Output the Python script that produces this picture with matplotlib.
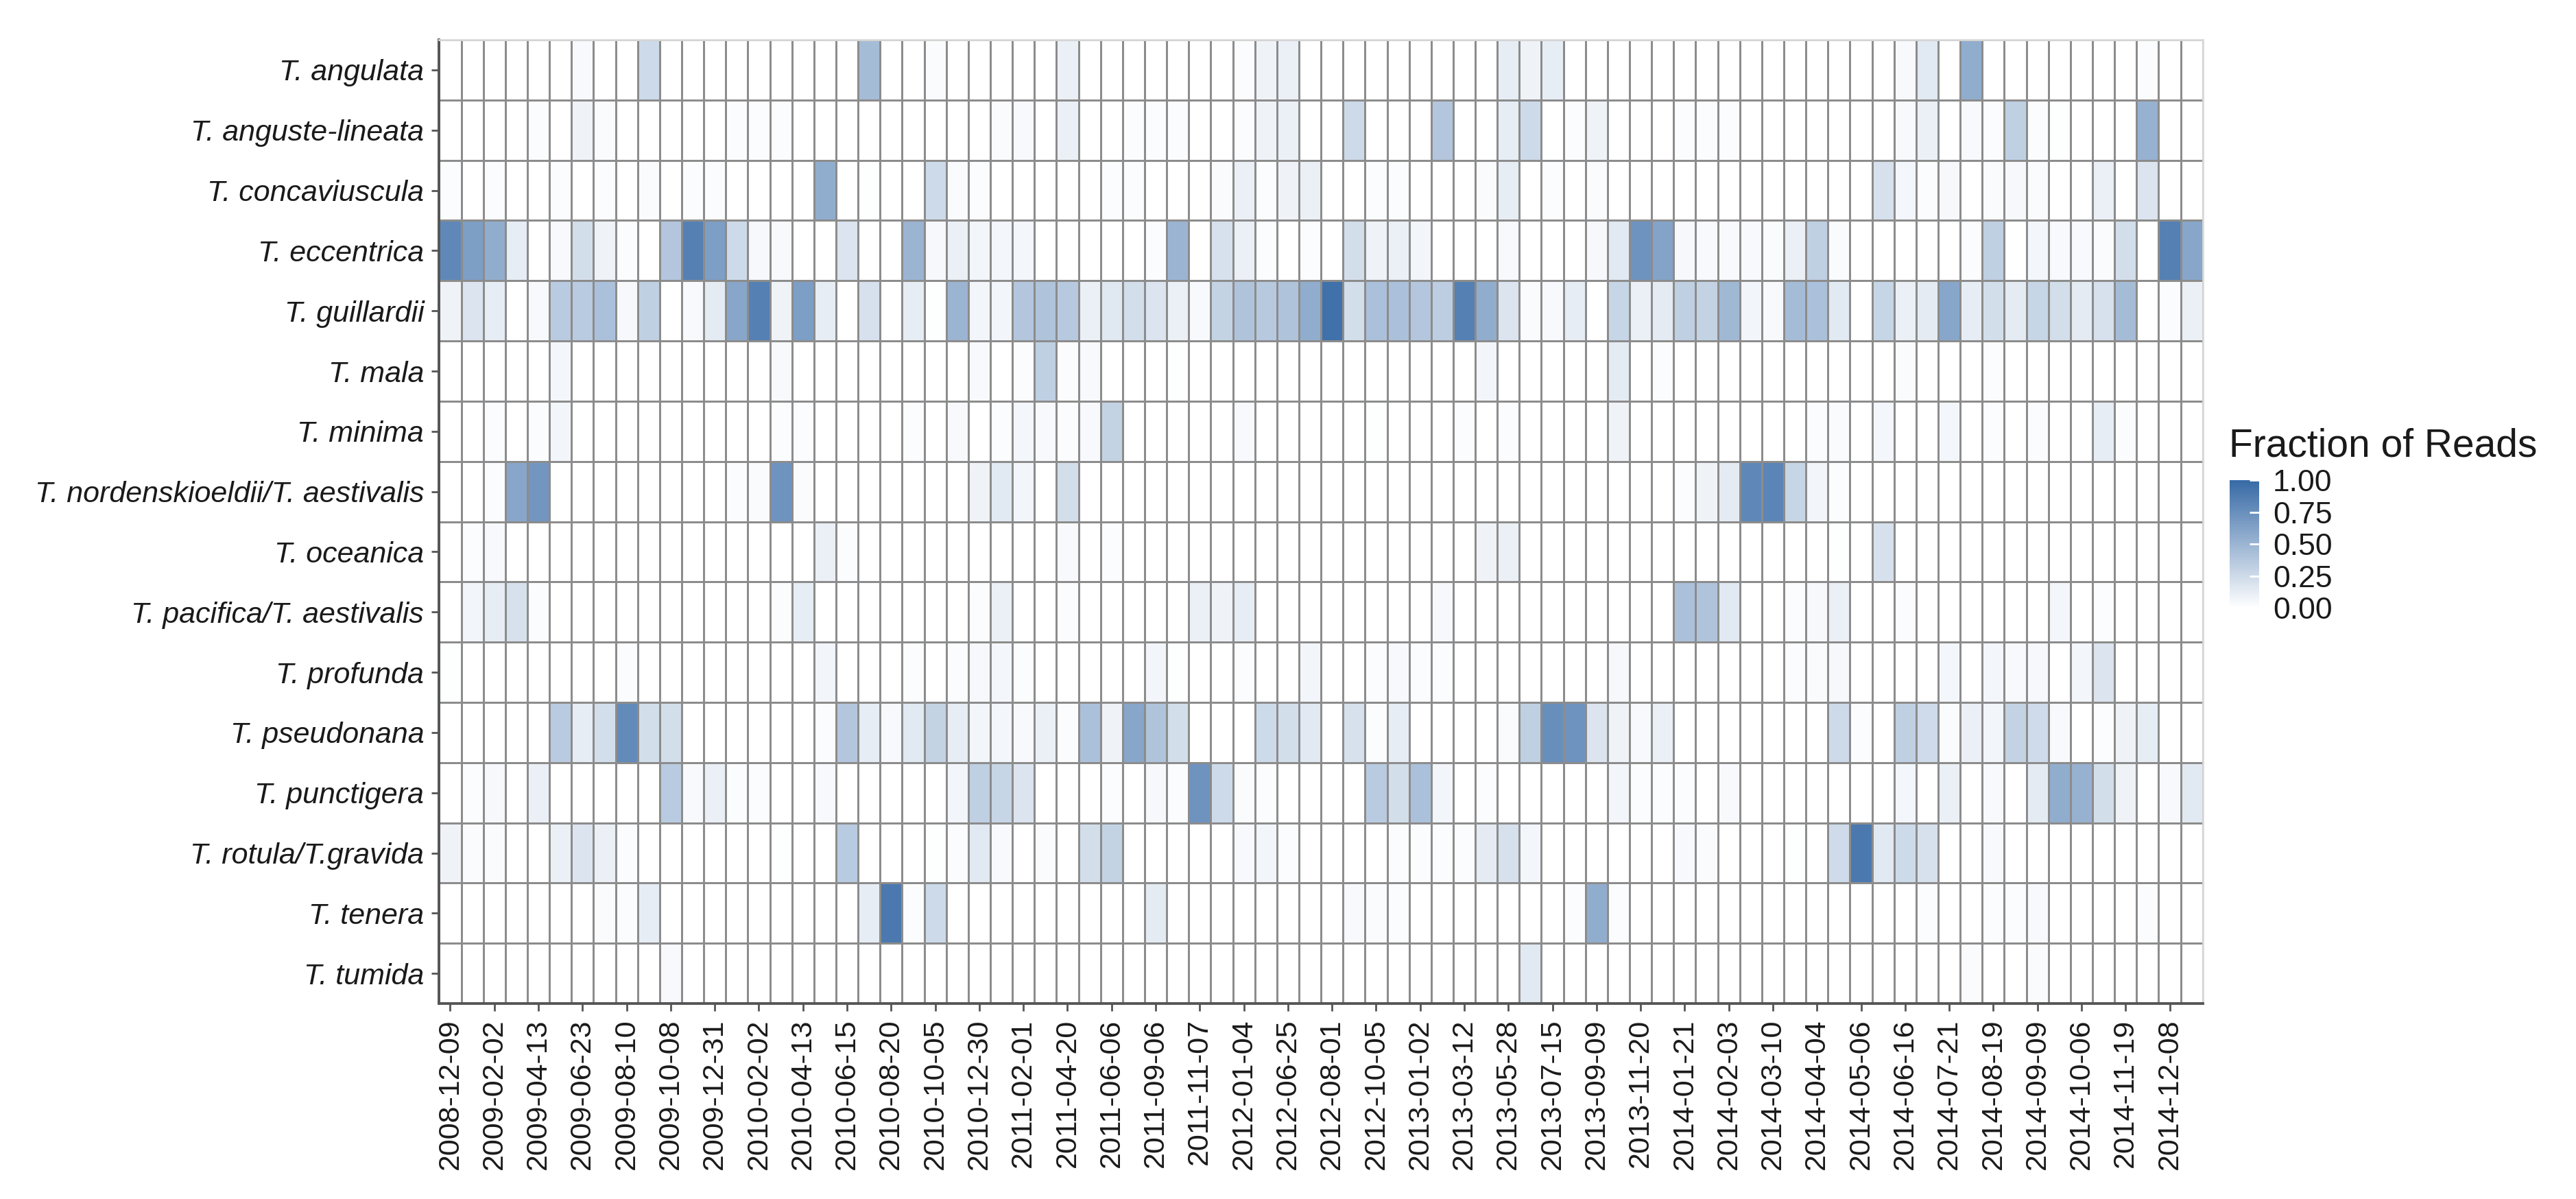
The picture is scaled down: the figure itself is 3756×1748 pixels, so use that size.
import numpy as np
import matplotlib.pyplot as plt
import matplotlib.transforms as mtransforms
from matplotlib.colors import LinearSegmentedColormap

plt.rcParams['font.family'] = ['Liberation Sans', 'DejaVu Sans']

species = ['T. angulata', 'T. anguste-lineata', 'T. concaviuscula', 'T. eccentrica',
           'T. guillardii', 'T. mala', 'T. minima', 'T. nordenskioeldii/T. aestivalis',
           'T. oceanica', 'T. pacifica/T. aestivalis', 'T. profunda', 'T. pseudonana',
           'T. punctigera', 'T. rotula/T.gravida', 'T. tenera', 'T. tumida']

# every second sampling date is labelled on the axis
date_labels = ['2008-12-09', '2009-02-02', '2009-04-13', '2009-06-23', '2009-08-10',
               '2009-10-08', '2009-12-31', '2010-02-02', '2010-04-13', '2010-06-15',
               '2010-08-20', '2010-10-05', '2010-12-30', '2011-02-01', '2011-04-20',
               '2011-06-06', '2011-09-06', '2011-11-07', '2012-01-04', '2012-06-25',
               '2012-08-01', '2012-10-05', '2013-01-02', '2013-03-12', '2013-05-28',
               '2013-07-15', '2013-09-09', '2013-11-20', '2014-01-21', '2014-02-03',
               '2014-03-10', '2014-04-04', '2014-05-06', '2014-06-16', '2014-07-21',
               '2014-08-19', '2014-09-09', '2014-10-06', '2014-11-19', '2014-12-08']
n_samples = 80

angulata = [0, 0, 0, 0, 0, 0, .04, 0, 0, .25,
            0, 0, 0, 0, 0, 0, 0, 0, 0, .45,
            0, 0, .03, 0, 0, 0, 0, 0, .1, 0,
            0, 0, 0, 0, 0, 0, .02, .08, .1, 0,
            0, 0, 0, 0, 0, 0, 0, 0, .12, .08,
            .12, 0, 0, 0, 0, 0, 0, 0, 0, 0,
            0, 0, 0, 0, 0, 0, .04, .15, 0, .55,
            0, 0, 0, 0, 0, 0, 0, .02, 0, 0]
anguste_lineata = [0, 0, 0, 0, .02, 0, .08, .03, 0, 0,
                   0, 0, 0, .02, .02, .02, 0, 0, 0, 0,
                   0, 0, 0, 0, 0, .03, .04, 0, .1, 0,
                   0, .02, .02, .02, 0, 0, .02, .08, .1, 0,
                   0, .25, 0, 0, 0, .38, 0, 0, .12, .25,
                   0, .02, .08, 0, 0, 0, .02, .02, .02, 0,
                   0, 0, 0, 0, 0, 0, .04, .1, 0, .04,
                   .02, .32, .02, .01, 0, 0, 0, .52, 0, 0]
concaviuscula = [.02, 0, .02, 0, 0, .02, 0, .02, 0, .03,
                 0, .02, .02, 0, 0, 0, 0, .55, 0, .01,
                 0, 0, .25, .03, .02, 0, 0, 0, 0, 0,
                 .02, .02, 0, 0, 0, .03, .1, .02, .08, .1,
                 0, 0, .02, .02, 0, 0, 0, .03, .12, 0,
                 .02, 0, .03, 0, 0, 0, 0, 0, 0, 0,
                 0, 0, 0, 0, 0, .2, .06, .02, .05, 0,
                 .03, .05, .03, 0, 0, .1, 0, .18, 0, 0]
eccentrica = [.8, .65, .55, .12, 0, .04, .22, .08, .02, 0,
              .38, .85, .65, .25, .05, .04, 0, 0, .18, 0,
              0, .5, .05, .1, .07, .06, .06, 0, 0, 0,
              0, 0, .02, .5, 0, .2, .1, .02, 0, .02,
              0, .22, .08, .1, .07, 0, 0, 0, .04, 0,
              0, 0, .05, .15, .72, .62, .05, .04, .04, .04,
              .03, .1, .32, .03, 0, 0, 0, 0, 0, .02,
              .32, 0, .06, .04, .04, .03, .22, 0, .85, .6]
guillardii = [.08, .18, .12, 0, .04, .35, .35, .42, .05, .32,
              0, .04, .14, .6, .85, .08, .65, .12, 0, .2,
              0, .12, .01, .5, .07, .07, .38, .4, .36, .1,
              .16, .22, .18, .1, .04, .3, .4, .36, .4, .55,
              .95, .22, .42, .42, .38, .33, .85, .55, .18, .03,
              .04, .12, 0, .28, .1, .14, .32, .3, .48, .07,
              .04, .45, .42, .15, 0, .28, .1, .14, .6, .12,
              .22, .14, .28, .22, .14, .2, .45, 0, .02, .1]
mala = [0, 0, 0, 0, 0, .06, 0, 0, 0, 0,
        0, 0, 0, 0, 0, .04, 0, 0, 0, 0,
        0, 0, 0, 0, .04, 0, .02, .32, .02, .04,
        0, 0, 0, .01, 0, 0, 0, 0, 0, 0,
        0, 0, 0, 0, 0, 0, 0, .07, 0, 0,
        0, 0, 0, .14, 0, .02, 0, 0, 0, 0,
        0, 0, 0, 0, 0, 0, .03, 0, 0, 0,
        .02, 0, 0, 0, 0, 0, 0, 0, 0, 0]
minima = [0, 0, .02, 0, .02, .07, 0, 0, 0, 0,
          0, 0, 0, 0, 0, .02, .02, 0, 0, 0,
          0, .02, 0, .04, 0, .02, .06, .04, .02, .04,
          .3, 0, 0, 0, 0, 0, .04, 0, 0, 0,
          0, 0, .01, 0, 0, 0, .02, 0, .02, 0,
          0, 0, 0, .08, 0, 0, 0, 0, 0, 0,
          0, 0, .02, .03, 0, .06, 0, 0, .06, 0,
          .02, 0, .02, 0, 0, .12, .02, 0, 0, 0]
nordenskioeldii = [0, 0, .02, .6, .7, 0, 0, 0, 0, 0,
                   0, 0, 0, .02, .03, .72, .03, 0, 0, 0,
                   0, 0, 0, 0, .08, .15, .07, 0, .22, 0,
                   0, 0, 0, 0, 0, 0, 0, 0, 0, 0,
                   0, 0, 0, 0, 0, 0, 0, 0, 0, 0,
                   0, 0, 0, 0, 0, 0, .02, .08, .14, .8,
                   .82, .28, .07, .02, 0, 0, 0, 0, 0, 0,
                   0, 0, 0, 0, 0, 0, 0, 0, 0, 0]
oceanica = [0, .02, .04, 0, 0, 0, 0, 0, 0, 0,
            0, 0, 0, 0, 0, 0, 0, .1, .02, 0,
            0, 0, 0, 0, 0, 0, 0, 0, .04, 0,
            .02, 0, 0, 0, 0, 0, 0, 0, 0, 0,
            0, 0, 0, 0, 0, 0, 0, .08, .1, 0,
            0, 0, 0, 0, 0, 0, 0, 0, 0, 0,
            0, 0, 0, .01, 0, .2, 0, 0, 0, 0,
            0, 0, 0, 0, 0, 0, 0, 0, 0, 0]
pacifica = [0, .07, .12, .2, .02, 0, 0, 0, 0, 0,
            0, 0, 0, 0, 0, .02, .12, 0, 0, 0,
            0, 0, 0, 0, .02, .1, 0, 0, .02, 0,
            0, 0, 0, 0, .1, .08, .12, 0, 0, 0,
            0, 0, 0, 0, 0, .05, 0, 0, 0, 0,
            0, 0, 0, 0, 0, 0, .42, .4, .15, 0,
            0, .02, .05, .1, 0, 0, .02, 0, 0, 0,
            0, 0, 0, .06, 0, .02, 0, 0, 0, 0]
profunda = [.01, 0, 0, 0, 0, 0, 0, 0, .02, 0,
            0, 0, 0, 0, 0, 0, 0, .07, 0, 0,
            0, .02, 0, .02, .05, .06, .02, 0, 0, 0,
            0, 0, .07, .01, 0, 0, .02, 0, 0, .07,
            0, 0, .02, .04, .02, .02, 0, 0, 0, 0,
            0, 0, 0, .05, 0, 0, 0, 0, 0, 0,
            0, .02, .03, .05, 0, 0, 0, 0, .06, 0,
            .06, .04, .05, 0, .06, .18, 0, 0, 0, 0]
pseudonana = [0, 0, 0, 0, 0, .35, .12, .22, .78, .22,
              .22, 0, 0, 0, 0, 0, 0, .02, .38, .12,
              .04, .15, .3, .12, .07, .06, .04, .1, .02, .42,
              .08, .6, .4, .22, 0, 0, 0, .25, .22, .15,
              0, .2, .02, .12, 0, 0, 0, 0, .03, .32,
              .75, .72, .18, .08, .04, .1, 0, 0, 0, 0,
              0, 0, 0, .25, .02, 0, .32, .24, .03, .1,
              .07, .3, .24, .04, 0, .02, .08, .12, 0, 0]
punctigera = [0, .02, .05, 0, .1, 0, 0, 0, 0, 0,
              .35, .04, .1, .02, .02, 0, 0, .04, 0, 0,
              0, 0, 0, .07, .32, .28, .18, 0, 0, 0,
              .02, 0, .05, .02, .72, .25, .03, .02, 0, 0,
              0, 0, .35, .22, .42, .07, 0, .02, 0, 0,
              0, 0, 0, .07, .02, .02, .02, 0, .04, 0,
              0, 0, 0, 0, 0, 0, .06, 0, .1, 0,
              .04, 0, .14, .55, .52, .22, .08, 0, .04, .15]
rotula = [.08, .03, .03, 0, 0, .1, .18, .1, .02, 0,
          0, 0, 0, 0, 0, .01, 0, 0, .35, 0,
          0, 0, .01, .02, .15, .04, 0, .03, 0, .22,
          .3, 0, 0, 0, 0, 0, .04, .07, .02, 0,
          0, 0, 0, .02, .02, .02, .02, .14, .2, .06,
          0, 0, 0, 0, 0, 0, .04, .03, 0, 0,
          0, .01, 0, .24, .9, .15, .25, .2, 0, 0,
          .04, 0, 0, 0, 0, 0, 0, 0, 0, 0]
tenera = [0, 0, 0, 0, 0, 0, 0, .03, .02, .12,
          0, 0, 0, 0, 0, 0, 0, 0, 0, .12,
          .9, .02, .25, 0, 0, 0, 0, 0, 0, 0,
          0, 0, .14, 0, 0, 0, 0, 0, 0, 0,
          0, .04, .03, .02, 0, 0, 0, 0, 0, 0,
          0, .02, .55, .02, 0, 0, 0, 0, 0, 0,
          0, 0, 0, 0, 0, 0, 0, .02, 0, 0,
          .02, .02, .04, 0, 0, 0, 0, .02, 0, 0]
tumida = [0, 0, 0, 0, 0, 0, 0, 0, 0, 0,
          .04, 0, 0, 0, 0, 0, 0, 0, 0, 0,
          0, 0, 0, 0, 0, 0, 0, 0, 0, 0,
          0, 0, 0, 0, 0, 0, 0, 0, 0, 0,
          0, 0, 0, 0, 0, 0, 0, 0, 0, .15,
          0, 0, 0, 0, 0, 0, 0, 0, 0, 0,
          0, 0, 0, 0, 0, 0, 0, 0, 0, .03,
          0, 0, .03, 0, 0, 0, 0, 0, 0, 0]

fractions = np.array([angulata, anguste_lineata, concaviuscula, eccentrica, guillardii,
                      mala, minima, nordenskioeldii, oceanica, pacifica, profunda,
                      pseudonana, punctigera, rotula, tenera, tumida])

fontsize = 15.5
textcol = '#1a1a1a'

fig = plt.figure(figsize=(18.78, 8.74), dpi=200)
ax = fig.add_axes([0.1705, 0.163, 0.6846, 0.8038])

cmap = LinearSegmentedColormap.from_list('reads', ['#ffffff', '#376aa6'])
mesh = ax.pcolormesh(np.arange(n_samples + 1), np.arange(len(species) + 1), fractions,
                     cmap=cmap, vmin=0, vmax=1, edgecolors='#8c8c8c', linewidth=0.45)
ax.set_xlim(0, n_samples)
ax.set_ylim(len(species), 0)

ax.set_xticks(np.arange(0, n_samples, 2) + 0.5)
ax.set_xticklabels(date_labels, rotation=90, fontsize=fontsize, color=textcol)
# labels sit a little to the right of their ticks, as in the original
shift = mtransforms.ScaledTranslation(0.1, 0, fig.dpi_scale_trans)
for lab in ax.get_xticklabels():
    lab.set_transform(lab.get_transform() + shift)
ax.set_yticks(np.arange(len(species)) + 0.5)
ax.set_yticklabels(species, fontsize=fontsize, fontstyle='italic', color=textcol)
ax.tick_params(length=4, width=1, color='#555555', pad=4)

for side in ['left', 'bottom']:
    ax.spines[side].set_color('#555555')
    ax.spines[side].set_linewidth(1.4)
for side in ['top', 'right']:
    ax.spines[side].set_color('#d9d9d9')
    ax.spines[side].set_linewidth(1.0)

# colour legend
cax = fig.add_axes([0.8656, 0.4931, 0.0115, 0.1064])
cb = fig.colorbar(mesh, cax=cax, ticks=[0, 0.25, 0.5, 0.75, 1.0])
cb.outline.set_visible(False)
cax.set_yticklabels(['0.00', '0.25', '0.50', '0.75', '1.00'], fontsize=16, color=textcol)
cax.tick_params(color='white', direction='in', length=5, width=1, pad=7)
fig.text(0.8653, 0.628, 'Fraction of Reads', fontsize=20.5, color=textcol,
         ha='left', va='center')

plt.savefig('out.png', dpi=200)
